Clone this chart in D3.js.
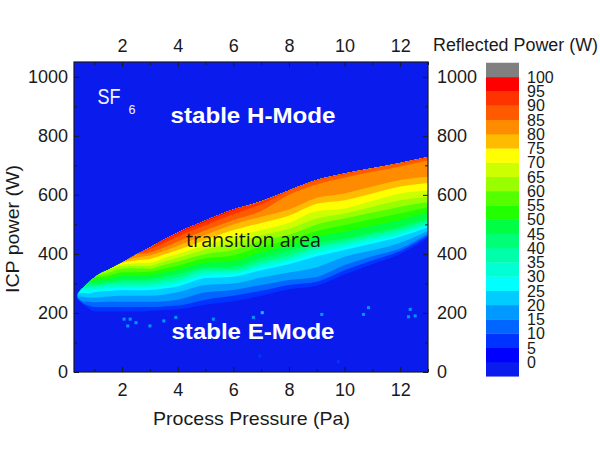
<!DOCTYPE html>
<html>
<head>
<meta charset="utf-8">
<script src="https://cdn.jsdelivr.net/npm/d3@7"></script>
<style>
  body { margin: 0; background: #ffffff; }
  svg text { font-family: "Liberation Sans", Arial, sans-serif; }
</style>
</head>
<body>
<div id="chart"></div>
<script>
var pressure = [0.4, 0.6, 0.8, 1, 1.5, 2, 2.5, 3, 3.5, 4, 5, 6, 7, 8, 9, 10, 11, 12, 13];

// ICP power (W) above which reflected power exceeds each level, per pressure column
var edge05 = [248, 228, 215, 205, 205, 205, 205, 207, 210, 212, 228, 240, 258, 280, 292, 330, 365, 400, 455];
var edge10 = [249, 232, 225, 220, 220, 220, 220, 220, 222, 225, 245, 258, 275, 295, 306, 345, 378, 410, 462];
var edge15 = [251, 240, 238, 236, 238, 238, 238, 238, 240, 245, 270, 278, 295, 312, 322, 362, 392, 418, 468];
var edge20 = [256, 255, 252, 252, 256, 258, 258, 258, 262, 270, 295, 300, 320, 337, 355, 390, 412, 438, 478];
var edge25 = [264, 268, 266, 270, 274, 278, 277, 278, 283, 290, 318, 323, 345, 365, 392, 413, 435, 458, 490];
var edge30 = [264, 278, 276, 278, 283, 287, 286, 287, 292, 300, 328, 332, 355, 375, 404, 424, 445, 466, 497];
var edge35 = [264, 285, 284, 286, 292, 295, 295, 296, 302, 310, 338, 340, 365, 385, 416, 435, 455, 475, 505];
var edge40 = [264, 285, 292, 293, 299, 303, 303, 305, 312, 320, 346, 348, 374, 395, 426, 444, 464, 484, 512];
var edge45 = [264, 285, 303, 300, 306, 312, 312, 315, 323, 332, 354, 357, 385, 410, 437, 452, 472, 492, 520];
var edge50 = [264, 285, 303, 310, 316, 325, 325, 328, 337, 346, 370, 376, 405, 428, 458, 475, 495, 515, 540];
var edge55 = [264, 285, 303, 320, 326, 338, 338, 340, 350, 360, 385, 395, 425, 447, 478, 498, 518, 538, 558];
var edge60 = [264, 285, 303, 320, 336, 350, 351, 350, 362, 374, 400, 413, 445, 465, 500, 520, 540, 560, 576];
var edge65 = [264, 285, 303, 320, 346, 358, 360, 360, 374, 387, 415, 436, 463, 485, 520, 537, 560, 582, 594];
var edge70 = [264, 285, 303, 320, 346, 364, 368, 370, 386, 400, 430, 458, 481, 505, 545, 554, 580, 605, 615];
var edge75 = [264, 285, 303, 320, 346, 370, 378, 383, 398, 413, 447, 481, 505, 530, 570, 582, 605, 628, 640];
var edge80 = [264, 285, 303, 320, 346, 370, 388, 395, 410, 428, 465, 500, 526, 550, 590, 605, 628, 650, 661];
var edge85 = [264, 285, 303, 320, 346, 370, 397, 405, 422, 442, 480, 515, 545, 600, 635, 658, 678, 696, 716];
var edge90 = [264, 285, 303, 320, 346, 370, 397, 416, 436, 458, 497, 534, 568, 613, 648, 670, 689, 706, 726];
var edge95 = [264, 285, 303, 320, 346, 370, 397, 422, 445, 469, 510, 548, 578, 615, 650, 672, 690, 708, 728];
var topEdge = [264, 285, 303, 320, 346, 370, 397, 422, 448, 472, 513, 550, 578, 615, 650, 672, 690, 708, 728];

var levels = [5, 10, 15, 20, 25, 30, 35, 40, 45, 50, 55, 60, 65, 70, 75, 80, 85, 90, 95];
var levelEdges = [edge05, edge10, edge15, edge20, edge25, edge30, edge35, edge40, edge45, edge50,
                  edge55, edge60, edge65, edge70, edge75, edge80, edge85, edge90, edge95];

// isolated points in the E-mode region
var dotP = [2.07, 2.29, 2.2, 2.5, 3.0, 3.5, 3.93, 5.28, 6.72, 7.04, 9.18, 10.68, 10.86, 12.36, 12.3, 12.54, 6.95, 9.78];
var dotW = [179, 179, 156, 167, 156, 173, 185, 179, 185, 201, 195, 195, 218, 212, 187, 190, 54, 35];
var dotValue = [15, 15, 15, 15, 15, 15, 15, 15, 15, 20, 15, 15, 15, 15, 15, 15, 5, 5];

var xMajor = [2, 4, 6, 8, 10, 12];
var xMinor = [1, 3, 5, 7, 9, 11, 13];
var yMajor = [0, 200, 400, 600, 800, 1000];
var yMinor = [100, 300, 500, 700, 900];
var legendTicks = [0, 5, 10, 15, 20, 25, 30, 35, 40, 45, 50, 55, 60, 65, 70, 75, 80, 85, 90, 95, 100];

// colour of each 5 W bin, 0-5 up to 95-100
var binColors = ["#0000ff", "#0033ff", "#0066ff", "#0099ff", "#00ccff", "#00ffff", "#00ffd5", "#00ffaa",
                 "#00ff77", "#00ff44", "#22ff00", "#55ff00", "#99ff00", "#ccff00", "#ffff00", "#ffbb00",
                 "#ff8c00", "#ff5a00", "#ff3300", "#ff0000"];
var bgColor = "#0a1ced";
var overColor = "#808080";

var w = 600, h = 450;
var plot = { left: 74, right: 428, top: 62, bottom: 372 };

var svg = d3.select("#chart").append("svg")
    .attr("width", w)
    .attr("height", h);

var x = d3.scaleLinear().domain([0.27, 13]).range([plot.left, plot.right]);
var y = d3.scaleLinear().domain([0, 1050]).range([plot.bottom, plot.top]);

svg.append("clipPath").attr("id", "plotClip")
  .append("rect")
    .attr("x", plot.left).attr("y", plot.top)
    .attr("width", plot.right - plot.left).attr("height", plot.bottom - plot.top);

// background = below-zero bin
svg.append("rect")
    .attr("x", plot.left).attr("y", plot.top)
    .attr("width", plot.right - plot.left).attr("height", plot.bottom - plot.top)
    .attr("fill", bgColor);

var map = svg.append("g").attr("clip-path", "url(#plotClip)");

// each level painted from its lower edge up to the top edge, low levels first
levels.forEach(function (lv, i) {
    var lower = levelEdges[i];
    var area = d3.area()
        .curve(d3.curveMonotoneX)
        .x(function (d, j) { return x(pressure[j]); })
        .y0(function (d, j) { return y(lower[j]); })
        .y1(function (d, j) { return y(topEdge[j]); });
    map.append("path")
        .datum(pressure)
        .attr("fill", binColors[lv / 5])
        .attr("d", area);
});

map.selectAll(".dot")
    .data(dotP)
  .enter().append("rect")
    .attr("class", "dot")
    .attr("x", function (d) { return x(d) - 1.5; })
    .attr("y", function (d, i) { return y(dotW[i]) - 1.5; })
    .attr("width", 3)
    .attr("height", 3)
    .attr("fill", function (d, i) { return binColors[dotValue[i] / 5]; });

// annotations
svg.append("text").attr("x", 97.5).attr("y", 103.5)
    .attr("font-size", 22).attr("fill", "#f4f4ff")
    .attr("textLength", 23).attr("lengthAdjust", "spacingAndGlyphs")
    .text("SF");
svg.append("text").attr("x", 128.5).attr("y", 114)
    .attr("font-size", 12.5).attr("fill", "#f4f4ff")
    .text("6");
svg.append("text").attr("x", 170.5).attr("y", 122.5)
    .attr("font-size", 22).attr("font-weight", "bold").attr("fill", "#ffffff")
    .attr("textLength", 165).attr("lengthAdjust", "spacingAndGlyphs")
    .text("stable H-Mode");
svg.append("text").attr("x", 171.5).attr("y", 338.5)
    .attr("font-size", 22).attr("font-weight", "bold").attr("fill", "#ffffff")
    .attr("textLength", 163).attr("lengthAdjust", "spacingAndGlyphs")
    .text("stable E-Mode");
svg.append("text").attr("x", 186).attr("y", 246.5)
    .attr("font-size", 20).attr("fill", "#161616")
    .style("font-family", "'Open Sans', sans-serif")
    .attr("textLength", 135).attr("lengthAdjust", "spacingAndGlyphs")
    .text("transition area");

// axes, ticks pointing inward
function styleAxis(g) {
    g.select(".domain").remove();
    g.attr("font-size", 18).attr("font-family", "'Liberation Sans', Arial, sans-serif").attr("color", "#1a1a1a");
}

svg.append("g").attr("transform", "translate(0," + plot.bottom + ")")
    .call(d3.axisBottom(x).tickValues(xMajor).tickSize(-5).tickPadding(11).tickFormat(d3.format("d")))
    .call(styleAxis);
svg.append("g").attr("transform", "translate(0," + plot.top + ")")
    .call(d3.axisTop(x).tickValues(xMajor).tickSize(-5).tickPadding(10).tickFormat(d3.format("d")))
    .call(styleAxis);
svg.append("g").attr("transform", "translate(" + plot.left + ",0)")
    .call(d3.axisLeft(y).tickValues(yMajor).tickSize(-5).tickPadding(6).tickFormat(d3.format("d")))
    .call(styleAxis);
svg.append("g").attr("transform", "translate(" + plot.right + ",0)")
    .call(d3.axisRight(y).tickValues(yMajor).tickSize(-5).tickPadding(9).tickFormat(d3.format("d")))
    .call(styleAxis);

// minor ticks
[["bottom", plot.bottom], ["top", plot.top]].forEach(function (s) {
    var ax = s[0] === "bottom" ? d3.axisBottom(x) : d3.axisTop(x);
    svg.append("g").attr("transform", "translate(0," + s[1] + ")")
        .call(ax.tickValues(xMinor).tickSize(-3).tickFormat(""))
        .call(styleAxis);
});
[["left", plot.left], ["right", plot.right]].forEach(function (s) {
    var ax = s[0] === "left" ? d3.axisLeft(y) : d3.axisRight(y);
    svg.append("g").attr("transform", "translate(" + s[1] + ",0)")
        .call(ax.tickValues(yMinor).tickSize(-3).tickFormat(""))
        .call(styleAxis);
});

svg.append("rect")
    .attr("x", plot.left).attr("y", plot.top)
    .attr("width", plot.right - plot.left).attr("height", plot.bottom - plot.top)
    .attr("fill", "none").attr("stroke", "#1a1a1a").attr("stroke-width", 1.2);

// axis titles
svg.append("text")
    .attr("x", 251.5).attr("y", 425)
    .attr("text-anchor", "middle").attr("font-size", 18.5).attr("fill", "#1a1a1a")
    .attr("textLength", 197).attr("lengthAdjust", "spacingAndGlyphs")
    .text("Process Pressure (Pa)");
svg.append("text")
    .attr("transform", "translate(19,229) rotate(-90)")
    .attr("text-anchor", "middle").attr("font-size", 18.5).attr("fill", "#1a1a1a")
    .attr("textLength", 128).attr("lengthAdjust", "spacingAndGlyphs")
    .text("ICP power (W)");
svg.append("text")
    .attr("x", 433).attr("y", 51)
    .attr("font-size", 17.5).attr("fill", "#1a1a1a")
    .attr("textLength", 165).attr("lengthAdjust", "spacingAndGlyphs")
    .text("Reflected Power (W)");

// colour bar
var cb = d3.scaleLinear().domain([0, 100]).range([362, 77]);
var cbX = 486, cbW = 33;
var cbBins = [-5].concat(legendTicks);
svg.append("g").selectAll("rect")
    .data(cbBins)
  .enter().append("rect")
    .attr("x", cbX)
    .attr("y", function (d) { return cb(d + 5); })
    .attr("width", cbW)
    .attr("height", function (d) { return cb(d) - cb(d + 5) + 0.3; })
    .attr("fill", function (d) {
        if (d < 0) return bgColor;
        if (d >= 100) return overColor;
        return binColors[d / 5];
    });

svg.append("g").selectAll("text")
    .data(legendTicks)
  .enter().append("text")
    .attr("x", 527)
    .attr("y", function (d) { return cb(d); })
    .attr("dy", "0.36em")
    .attr("font-size", 16)
    .attr("fill", "#1a1a1a")
    .text(function (d) { return d; });
</script>
</body>
</html>
